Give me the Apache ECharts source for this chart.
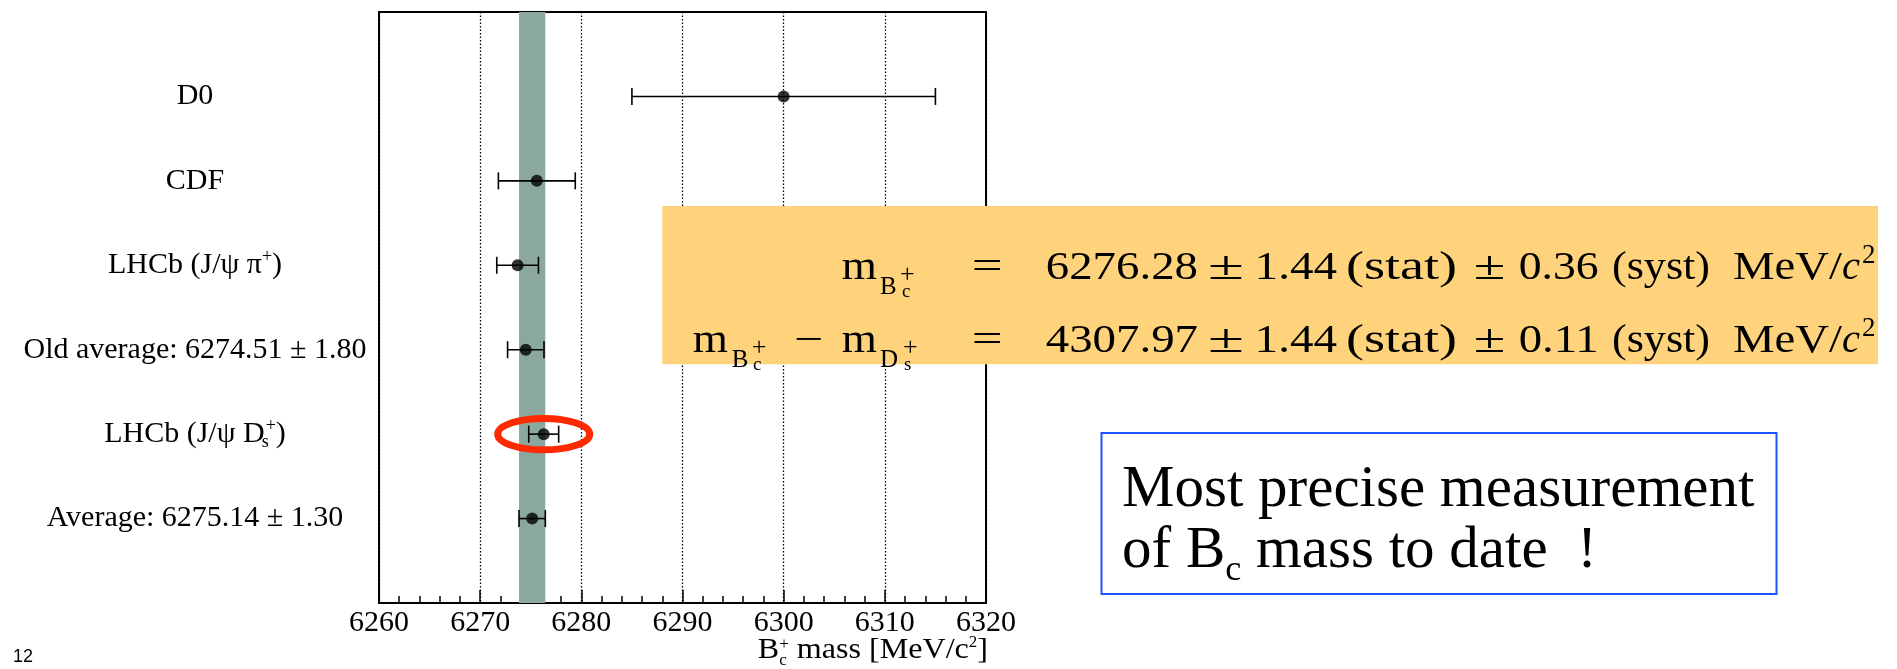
<!DOCTYPE html>
<html>
<head>
<meta charset="utf-8">
<script src="https://cdn.jsdelivr.net/npm/echarts@6/dist/echarts.min.js"></script>
<style>
  html, body { margin: 0; padding: 0; background: #fff; }
  #chart { width: 1897px; height: 669px; }
</style>
</head>
<body>
<div id="chart"></div>
<script>
// ---- data -------------------------------------------------------------
const experiments = ['D0', 'CDF', 'LHCb (J/ψ π{sup|+})', 'Old average', 'LHCb (J/ψ D{sub|s}{sup|+})', 'Average'];
const masses      = [6300.0, 6275.6, 6273.7, 6274.51, 6276.28, 6275.14];   // MeV/c^2
const errors      = [15.0, 3.8, 2.06, 1.80, 1.48, 1.30];                   // MeV/c^2
const showValue   = [false, false, false, true, false, true];
const rowPositions = [6, 5, 4, 3, 2, 1];
const massRange   = [6260, 6320];
const massStep    = 10;
const averageIndex = 5;      // the shaded band is the world average
const highlightIndex = 4;    // new LHCb measurement, circled
const massResult  = ['6276.28', '1.44', '0.36'];
const diffResult  = ['4307.97', '1.44', '0.11'];

// ---- text helpers -----------------------------------------------------
const SERIF = "'Liberation Serif', 'Times New Roman', serif";
const SANS = "'Liberation Sans', Arial, sans-serif";
const meas = document.createElement('canvas').getContext('2d');
function widthOf(t, size, o) {
  o = o || {};
  meas.font = (o.italic ? 'italic ' : '') + size + 'px ' + (o.family || SERIF);
  return meas.measureText(t).width;
}
// text placed by its baseline
function txt(t, x, base, size, o) {
  o = o || {};
  const mid = o.mid != null ? o.mid : 0.3375;
  return {
    type: 'text', x: x, y: base - mid * size, scaleX: o.sx || 1, silent: true, z: 100,
    style: {
      text: t, fontSize: size, fontFamily: o.family || SERIF,
      fontStyle: o.italic ? 'italic' : 'normal', fill: o.color || '#000',
      align: 'left', verticalAlign: 'middle', textAlign: 'left', textVerticalAlign: 'middle'
    }
  };
}
// text stretched horizontally to span x0..x1
function fit(t, x0, x1, base, size, o) {
  o = Object.assign({}, o);
  o.sx = (x1 - x0) / widthOf(t, size, o);
  return txt(t, x0, base, size, o);
}
// consecutive runs; a part with stack:true shares its x with the next part
function seq(x, base, parts, alignRight) {
  let w = 0, stackW = 0;
  const placed = [];
  parts.forEach(p => {
    const pw = widthOf(p.t, p.size, p) * (p.sx || 1);
    placed.push({ p: p, off: w });
    if (p.stack) { stackW = Math.max(stackW, pw); }
    else { w += Math.max(pw, stackW); stackW = 0; }
  });
  const x0 = alignRight ? x - w : x;
  return placed.map(({ p, off }) => txt(p.t, x0 + off, base - (p.dy || 0), p.size, p));
}

// right-hand side of a result line
function resultRhs(vals, base) {
  const s = 40;
  return [
    fit(vals[0], 1045.7, 1198, base, s),
    fit('±', 1208, 1244, base, s),
    fit(vals[1], 1254.6, 1337, base, s),
    fit('(stat)', 1346, 1457, base, s),
    fit('±', 1473.7, 1505.3, base, s),
    fit(vals[2], 1518.7, 1598.7, base, s),
    fit('(syst)', 1612, 1710, base, s),
    fit('MeV/', 1733, 1842, base, s),
    fit('c', 1842, 1860, base, s, { italic: true }),
    txt('2', 1862, base - 17, 27)
  ];
}

// ---- annotations ------------------------------------------------------
const L1 = 282, L2 = 355;   // baselines of the two result lines
const annotations = [].concat(
  [{ type: 'rect', silent: true, z: 90, shape: { x: 662.3, y: 206, width: 1215.7, height: 158.3 },
     style: { fill: '#fed37b', stroke: null } }],
  // m(Bc+)
  [txt('m', 841.7, L1, 40, { sx: 1.13 }), txt('B', 880, L1 + 14, 25), txt('c', 902, L1 + 16, 19),
   txt('+', 900, L1 + 2, 26), fit('=', 971.7, 1002.7, L1, 40)],
  resultRhs(massResult, L1),
  // m(Bc+) - m(Ds+)
  [txt('m', 692.7, L2, 40, { sx: 1.13 }), txt('B', 731.7, L2 + 14, 25), txt('c', 753, L2 + 16, 19),
   txt('+', 751.7, L2 + 2, 26), fit('−', 794, 823.3, L2, 40),
   txt('m', 841.7, L2, 40, { sx: 1.13 }), txt('D', 880, L2 + 14, 25), txt('s', 904, L2 + 16, 19),
   txt('+', 903, L2 + 2, 26), fit('=', 971.7, 1002.7, L2, 40)],
  resultRhs(diffResult, L2),
  // statement box
  [{ type: 'rect', silent: true, z: 90, shape: { x: 1101.5, y: 433, width: 675, height: 161 },
     style: { fill: '#fff', stroke: '#2052ff', lineWidth: 2 } },
   txt('Most precise measurement', 1122, 510, 59)],
  seq(1122, 571.7, [{ t: 'of B', size: 59 }, { t: 'c', size: 36, dy: -11.3 }, { t: ' mass to date  !', size: 59 }]),
  // axis title
  seq(988, 660, [
    { t: 'B', size: 30, sx: 1.07 }, { t: '+', size: 17, dy: 10, stack: true }, { t: 'c', size: 17, dy: -6.7 },
    { t: ' mass [MeV/c', size: 30, sx: 1.07 }, { t: '2', size: 17, dy: 12 }, { t: ']', size: 30, sx: 1.07 }
  ], true),
  // page number
  [txt('12', 13, 663, 18, { family: SANS, mid: 0.3465 })]
);

// ---- chart ------------------------------------------------------------
function rowLabel(v) {
  const i = rowPositions.indexOf(v);
  if (i < 0) return '';
  const name = experiments[i];
  return showValue[i] ? name + ': ' + masses[i].toFixed(2) + ' ± ' + errors[i].toFixed(2) : name;
}

const chart = echarts.init(document.getElementById('chart'));
chart.setOption({
  animation: false,
  backgroundColor: '#fff',
  grid: { left: 379, top: 12, width: 607, height: 591, show: true, borderColor: '#000', borderWidth: 2 },
  xAxis: {
    type: 'value', min: massRange[0], max: massRange[1], interval: massStep,
    axisLine: { show: true, onZero: false, lineStyle: { color: '#000', width: 2 } },
    axisTick: { show: true, inside: true, length: 13, lineStyle: { color: '#000', width: 1.5 } },
    minorTick: { show: true, splitNumber: 5, length: 7, lineStyle: { color: '#000', width: 1.5 } },
    axisLabel: { fontSize: 30, fontFamily: SERIF, color: '#000', margin: 5, formatter: v => String(v) },
    splitLine: { show: true, lineStyle: { color: '#000', width: 1.3, type: [1.5, 2] } }
  },
  yAxis: {
    type: 'value', min: 0, max: 7, interval: 1,
    axisLine: { show: false }, axisTick: { show: false }, splitLine: { show: false },
    axisLabel: {
      formatter: rowLabel, align: 'center', margin: 184,
      fontSize: 30, fontFamily: SERIF, color: '#000', lineHeight: 34,
      rich: {
        sup: { fontSize: 18, fontFamily: SERIF, color: '#000', verticalAlign: 'top', lineHeight: 18 },
        sub: { fontSize: 18, fontFamily: SERIF, color: '#000', verticalAlign: 'bottom', lineHeight: 18, width: 1 }
      }
    }
  },
  series: [
    {
      // world-average band
      type: 'scatter', data: [], z: 1, silent: true,
      markArea: {
        silent: true,
        itemStyle: { color: '#8ba8a0', opacity: 1 },
        data: [[{ xAxis: masses[averageIndex] - errors[averageIndex] },
                { xAxis: masses[averageIndex] + errors[averageIndex] }]]
      }
    },
    {
      // horizontal error bars with end caps
      type: 'custom', z: 3, silent: true,
      encode: { x: [0, 1], y: 2 },
      data: masses.map((m, i) => [m - errors[i], m + errors[i], rowPositions[i]]),
      renderItem: function (params, api) {
        const lo = api.coord([api.value(0), api.value(2)]);
        const hi = api.coord([api.value(1), api.value(2)]);
        const cap = 8.5;
        const st = { stroke: '#000', lineWidth: 1.6 };
        return {
          type: 'group', children: [
            { type: 'line', shape: { x1: lo[0], y1: lo[1], x2: hi[0], y2: hi[1] }, style: st },
            { type: 'line', shape: { x1: lo[0], y1: lo[1] - cap, x2: lo[0], y2: lo[1] + cap }, style: st },
            { type: 'line', shape: { x1: hi[0], y1: hi[1] - cap, x2: hi[0], y2: hi[1] + cap }, style: st }
          ]
        };
      }
    },
    {
      type: 'scatter', z: 4, silent: true,
      data: masses.map((m, i) => [m, rowPositions[i]]),
      symbol: 'circle', symbolSize: 12, itemStyle: { color: '#000' }
    },
    {
      // highlight ring around the new measurement
      type: 'custom', z: 5, silent: true,
      data: [[masses[highlightIndex], rowPositions[highlightIndex]]],
      renderItem: function (params, api) {
        const c = api.coord([api.value(0), api.value(1)]);
        return { type: 'ellipse', shape: { cx: c[0], cy: c[1], rx: 46, ry: 15.7 },
                 style: { fill: 'none', stroke: '#ff2a00', lineWidth: 7 } };
      }
    }
  ],
  graphic: { elements: annotations }
});
</script>
</body>
</html>
